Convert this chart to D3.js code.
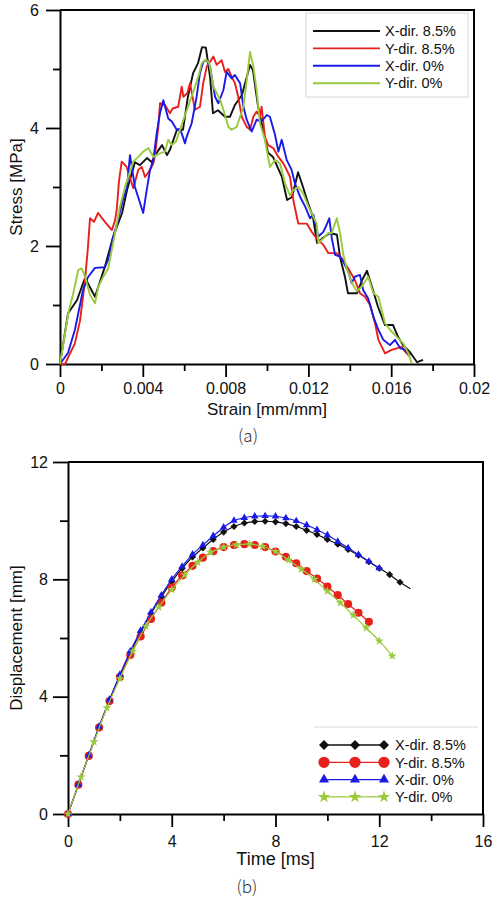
<!DOCTYPE html>
<html><head><meta charset="utf-8">
<script src="https://cdn.jsdelivr.net/npm/d3@7"></script>
<style>body{margin:0;background:#fff} svg{display:block}</style>
</head><body>
<svg id="c" width="499" height="902"></svg>
<script>
// ---------- shared ----------
const seriesNames = ["X-dir. 8.5%", "Y-dir. 8.5%", "X-dir. 0%", "Y-dir. 0%"];

// ---------- (a) stress-strain ----------
const strainTicks = [0, 0.004, 0.008, 0.012, 0.016, 0.02];
const strainTickLabels = ["0", "0.004", "0.008", "0.012", "0.016", "0.02"];
const stressTicks = [0, 2, 4, 6];
const stressTickLabels = ["0", "2", "4", "6"];

const xStrain85 = [0,.00039,.00082,.00121,.00169,.00217,.00256,.003,.00324,.00362,.00386,.0042,.00444,.00459,.00493,.00517,.00531,.00565,.00594,.00618,.00643,.00667,.00686,.00705,.00725,.00739,.00763,.00797,.00821,.00845,.00879,.00918,.00932,.00957,.00981,.01005,.01029,.01072,.01097,.01121,.0115,.01174,.01198,.01222,.01242,.01271,.01304,.01338,.01353,.01377,.01391,.01435,.01459,.01483,.01507,.01536,.0157,.01609,.01633,.01657,.01691,.01725,.01754];
const xStress85 = [0,0.86,1.08,1.46,1.14,1.65,2.15,2.56,2.95,3.42,3.37,3.49,3.42,3.54,3.71,3.54,3.63,3.97,3.97,4.53,4.93,5.1,5.37,5.36,4.86,4.25,4.3,4.19,4.19,4.39,4.56,5.07,4.98,4.36,3.97,3.58,3.51,3.17,2.78,2.83,3.25,3.0,2.73,2.49,2.05,2.14,2.22,2.19,1.81,1.47,1.2,1.2,1.42,1.58,1.31,0.97,0.66,0.66,0.46,0.32,0.2,0.03,0.07];

const yStrain85 = [0,.00024,.00072,.00097,.00121,.00135,.00145,.00164,.00184,.00217,.00251,.00266,.00274,.00285,.00298,.00322,.00354,.00378,.00395,.00411,.00435,.00451,.00459,.00475,.00483,.00507,.00531,.00544,.00571,.00588,.00596,.00615,.00628,.00652,.00676,.00692,.00709,.00741,.00757,.00781,.00797,.00813,.00829,.00845,.00861,.00878,.00902,.00918,.00934,.0095,.00966,.00974,.0099,.01006,.0103,.01055,.01079,.01095,.01111,.01127,.01151,.01192,.01216,.0124,.01272,.01296,.01337,.01361,.01393,.01425,.01449,.01473,.01498,.01522,.01538,.0157,.01602,.01651,.01667,.01691];
const yStress85 = [0,0,0.35,0.74,1.42,1.98,2.47,2.41,2.56,2.41,2.27,2.44,2.61,3.1,3.43,3.34,2.98,3.29,3.34,3.17,3.29,3.4,3.54,4.02,4.42,4.39,4.25,4.33,4.36,4.7,4.53,4.59,4.76,4.31,4.36,4.76,5.04,5.21,5.07,5.15,4.95,5.0,4.87,4.76,4.53,4.19,4.02,3.97,4.19,4.28,4.19,4.36,3.85,3.71,3.66,3.51,3.4,3.29,3.17,2.78,2.38,2.38,2.24,2.13,2.02,1.88,1.88,1.79,1.62,1.42,1.2,1.14,1.0,0.69,0.41,0.18,0.24,0.29,0.21,0.12];

const xStrain0 = [0,.00039,.00072,.00111,.00135,.00169,.00217,.00232,.00256,.0028,.00304,.00324,.00338,.00362,.00402,.00419,.00435,.00451,.00467,.00483,.00499,.00523,.0054,.00564,.0058,.00604,.00612,.00636,.0066,.00676,.00692,.00709,.00725,.00749,.00765,.00789,.00805,.00829,.00845,.0087,.00886,.00902,.00926,.0095,.00974,.00999,.01014,.01039,.01055,.01071,.01095,.01119,.01135,.01159,.01184,.01208,.01224,.0124,.01248,.01272,.01288,.01301,.01313,.01329,.01353,.01369,.01393,.01409,.01425,.01449,.01465,.01489,.01514,.01538,.01562,.01594,.01618,.01643,.01667,.01691];
const xStress0 = [0,0.19,0.58,1.25,1.47,1.63,1.64,1.76,2.14,2.44,2.78,3.0,3.54,3.0,2.56,2.95,3.29,3.46,3.91,4.25,4.47,4.16,4.11,3.97,3.99,3.74,3.85,4.08,4.53,4.93,5.12,5.15,5.04,4.53,4.42,4.64,4.95,4.84,4.9,4.76,4.36,4.14,3.94,4.14,4.11,4.22,4.19,3.88,3.6,3.8,3.46,3.29,3.06,2.84,2.67,2.47,2.53,2.27,2.16,2.24,2.36,2.47,2.13,1.85,1.82,1.73,1.56,1.37,1.48,1.51,1.25,1.11,0.8,0.58,0.41,0.32,0.41,0.27,0.24,0.15];

const yStrain0 = [0,.0004,.00064,.00088,.00105,.00121,.00145,.00169,.00185,.00209,.00233,.0025,.00266,.0029,.00314,.00354,.00378,.00402,.00427,.00451,.00483,.00507,.00523,.0054,.0056,.0058,.00604,.00628,.00652,.00668,.00685,.00705,.00721,.00741,.00757,.00776,.00797,.00813,.00829,.00854,.00886,.00902,.00918,.00934,.0095,.00966,.0099,.01014,.01039,.01063,.01087,.01111,.01127,.01151,.01175,.012,.0124,.01248,.01272,.01296,.01313,.01337,.01353,.01369,.01385,.01409,.01433,.01457,.01489,.01514,.01538,.0157,.01594,.01627,.01658,.01683,.01699];
const yStress0 = [0,0.86,1.2,1.59,1.62,1.48,1.17,1.03,1.31,1.48,1.62,1.93,2.22,2.67,3.0,3.43,3.51,3.6,3.66,3.51,3.57,3.6,3.8,3.71,3.77,3.97,4.22,4.45,4.7,4.87,5.1,5.16,5.1,4.7,4.59,4.45,4.22,4.02,3.97,4.02,4.36,4.81,5.29,5.04,4.64,4.08,3.8,3.34,3.46,3.4,3.06,2.86,2.95,3.0,2.89,2.67,2.38,2.05,2.13,2.22,2.22,2.47,2.22,1.85,1.62,1.39,1.23,1.31,1.48,1.2,1.14,0.69,0.58,0.46,0.35,0.18,0.01];

// ---------- (b) displacement-time ----------
const timeTicks = [0, 4, 8, 12, 16];
const timeTickLabels = ["0", "4", "8", "12", "16"];
const dispTicks = [0, 4, 8, 12];
const dispTickLabels = ["0", "4", "8", "12"];

const xTime85 = [0,0.4,0.8,1.2,1.6,2.0,2.4,2.8,3.2,3.6,4.0,4.4,4.8,5.2,5.6,6.0,6.4,6.8,7.2,7.6,8.0,8.4,8.8,9.2,9.6,10.0,10.4,10.8,11.2,11.6,12.0,12.4,12.8,13.2];
const xDisp85 = [0,1.0,2.0,2.98,3.88,4.72,5.5,6.2,6.83,7.4,7.92,8.37,8.76,9.07,9.36,9.61,9.8,9.92,9.97,9.98,9.96,9.9,9.8,9.67,9.53,9.36,9.2,9.02,8.82,8.6,8.38,8.16,7.9,7.68];

const yTime85 = [0,0.4,0.8,1.2,1.6,2.0,2.4,2.8,3.2,3.6,4.0,4.4,4.8,5.2,5.6,6.0,6.4,6.8,7.2,7.6,8.0,8.4,8.8,9.2,9.6,10.0,10.4,10.8,11.2,11.6];
const yDisp85 = [0,1.0,1.98,2.95,3.85,4.67,5.42,6.05,6.65,7.2,7.72,8.13,8.46,8.74,8.96,9.1,9.17,9.2,9.17,9.1,8.95,8.77,8.55,8.28,8.03,7.75,7.46,7.16,6.86,6.55];

const xTime0 = [0,0.4,0.8,1.2,1.6,2.0,2.4,2.8,3.2,3.6,4.0,4.4,4.8,5.2,5.6,6.0,6.4,6.8,7.2,7.6,8.0,8.4,8.8,9.2,9.6,10.0,10.4,10.8,11.2,11.6,12.0];
const xDisp0 = [0,1.0,2.0,2.98,3.9,4.75,5.55,6.25,6.88,7.46,8.0,8.44,8.85,9.17,9.48,9.77,10.0,10.1,10.15,10.16,10.15,10.09,9.99,9.85,9.69,9.51,9.29,9.07,8.84,8.61,8.38];

const yTime0 = [0,0.5,1.0,1.5,2.0,2.5,3.0,3.5,4.0,4.5,5.0,5.5,6.0,6.5,7.0,7.5,8.0,8.5,9.0,9.5,10.0,10.5,11.0,11.5,12.0,12.5];
const yDisp0 = [0,1.26,2.46,3.62,4.62,5.55,6.4,7.05,7.65,8.15,8.58,8.92,9.1,9.18,9.2,9.12,8.95,8.66,8.35,8.0,7.6,7.2,6.78,6.34,5.9,5.39];

// ---------- styles ----------
const lineColors = ["#111111", "#e8201c", "#1a1ae8", "#99c93c"];
const tickFont = "'Liberation Sans', Arial, sans-serif";

const svg = d3.select("#c");

function styleAxis(g, w) {
  g.select(".domain").attr("stroke", "#000").attr("stroke-width", w);
  g.selectAll(".tick line").attr("stroke", "#000").attr("stroke-width", 1.8);
  g.selectAll(".tick text").attr("font-family", tickFont).attr("font-size", 16).attr("fill", "#111");
}
function midpoints(arr) {
  const out = [];
  for (let i = 0; i < arr.length - 1; i++) out.push((arr[i] + arr[i + 1]) / 2);
  return out;
}

// ===== Chart (a) =====
const A = {l: 60, r: 474, t: 10, b: 364};
const xA = d3.scaleLinear().domain([0, 0.02]).range([A.l, A.r]);
const yA = d3.scaleLinear().domain([0, 6]).range([A.b, A.t]);

const gA = svg.append("g");
gA.append("path").attr("d", `M${A.l},${A.t}H${A.r}V${A.b}`).attr("fill", "none").attr("stroke", "#000").attr("stroke-width", 2);

gA.append("g").attr("transform", `translate(0,${A.b})`)
  .call(d3.axisBottom(xA).tickValues(midpoints(strainTicks)).tickSize(7).tickFormat(""))
  .call(g => { g.select(".domain").remove(); g.selectAll("line").attr("stroke", "#000").attr("stroke-width", 1.8); });
gA.append("g").attr("transform", `translate(${A.l},0)`)
  .call(d3.axisLeft(yA).tickValues(midpoints(stressTicks)).tickSize(7).tickFormat(""))
  .call(g => { g.select(".domain").remove(); g.selectAll("line").attr("stroke", "#000").attr("stroke-width", 1.8); });
gA.append("g").attr("transform", `translate(0,${A.b})`)
  .call(d3.axisBottom(xA).tickValues(strainTicks).tickSize(13).tickSizeOuter(0).tickPadding(6)
    .tickFormat((d, i) => strainTickLabels[i]))
  .call(g => styleAxis(g, 2));
gA.append("g").attr("transform", `translate(${A.l},0)`)
  .call(d3.axisLeft(yA).tickValues(stressTicks).tickSize(14).tickSizeOuter(0).tickPadding(7)
    .tickFormat((d, i) => stressTickLabels[i]))
  .call(g => styleAxis(g, 2));

const seriesA = [
  {x: xStrain85, y: xStress85},
  {x: yStrain85, y: yStress85},
  {x: xStrain0, y: xStress0},
  {x: yStrain0, y: yStress0}
];
const lineA = d3.line().x(d => xA(d[0])).y(d => yA(d[1]));
seriesA.forEach((s, i) => {
  gA.append("path").datum(s.x.map((v, k) => [v, s.y[k]]))
    .attr("d", lineA).attr("fill", "none").attr("stroke", lineColors[i])
    .attr("stroke-width", 1.9).attr("stroke-linejoin", "round");
});

gA.append("text").attr("x", (A.l + A.r) / 2).attr("y", 415).attr("text-anchor", "middle")
  .attr("font-family", tickFont).attr("font-size", 17).attr("fill", "#111").text("Strain [mm/mm]");
gA.append("text").attr("transform", `translate(22,${(A.t + A.b) / 2}) rotate(-90)`).attr("text-anchor", "middle")
  .attr("font-family", tickFont).attr("font-size", 17).attr("fill", "#111").text("Stress [MPa]");

const legA = gA.append("g");
legA.append("rect").attr("x", 306).attr("y", 13).attr("width", 162).attr("height", 84)
  .attr("fill", "#fff").attr("stroke", "#d8d8d8").attr("stroke-width", 1);
seriesNames.forEach((n, i) => {
  const yy = 31 + i * 17.4;
  legA.append("line").attr("x1", 313).attr("x2", 380).attr("y1", yy).attr("y2", yy)
    .attr("stroke", lineColors[i]).attr("stroke-width", 1.9);
  legA.append("text").attr("x", 385).attr("y", yy).attr("dy", "0.36em")
    .attr("font-family", tickFont).attr("font-size", 14.5).attr("fill", "#111").text(n);
});

svg.append("text").attr("x", 248).attr("y", 442).attr("text-anchor", "middle")
  .attr("font-family", "'Noto Sans CJK KR', 'Noto Sans', sans-serif").attr("font-weight", 300)
  .attr("font-size", 17).attr("fill", "#333").text("(a)");

// ===== Chart (b) =====
const B = {l: 68, r: 483, t: 462, b: 814};
const xB = d3.scaleLinear().domain([0, 16]).range([B.l, B.r]);
const yB = d3.scaleLinear().domain([0, 12]).range([B.b, B.t]);
const gB = svg.append("g");
gB.append("path").attr("d", `M${B.l},${B.t}H${B.r}V${B.b}`).attr("fill", "none").attr("stroke", "#000").attr("stroke-width", 2);

gB.append("g").attr("transform", `translate(0,${B.b})`)
  .call(d3.axisBottom(xB).tickValues(midpoints(timeTicks)).tickSize(7).tickFormat(""))
  .call(g => { g.select(".domain").remove(); g.selectAll("line").attr("stroke", "#000").attr("stroke-width", 1.8); });
gB.append("g").attr("transform", `translate(${B.l},0)`)
  .call(d3.axisLeft(yB).tickValues(midpoints(dispTicks)).tickSize(8).tickFormat(""))
  .call(g => { g.select(".domain").remove(); g.selectAll("line").attr("stroke", "#000").attr("stroke-width", 1.8); });
gB.append("g").attr("transform", `translate(0,${B.b})`)
  .call(d3.axisBottom(xB).tickValues(timeTicks).tickSize(13).tickSizeOuter(0).tickPadding(9)
    .tickFormat((d, i) => timeTickLabels[i]))
  .call(g => styleAxis(g, 2));
gB.append("g").attr("transform", `translate(${B.l},0)`)
  .call(d3.axisLeft(yB).tickValues(dispTicks).tickSize(15).tickSizeOuter(0).tickPadding(5)
    .tickFormat((d, i) => dispTickLabels[i]))
  .call(g => styleAxis(g, 2));

const symbolsB = [
  {type: d3.symbolSquare, size: 25, legendSize: 50, rot: 45},
  {type: d3.symbolCircle, size: 52, legendSize: 100, rot: 0},
  {type: d3.symbolTriangle, size: 24, legendSize: 44, rot: 0},
  {type: d3.symbolStar, size: 26, legendSize: 48, rot: 0}
];
const seriesB = [
  {t: xTime85, d: xDisp85, markLast: false},
  {t: yTime85, d: yDisp85, markLast: true},
  {t: xTime0, d: xDisp0, markLast: true},
  {t: yTime0, d: yDisp0, markLast: true}
];
const lineB = d3.line().curve(d3.curveCatmullRom).x(d => xB(d[0])).y(d => yB(d[1]));
seriesB.forEach((s, i) => {
  const pts = s.t.map((v, k) => [v, s.d[k]]);
  const g = gB.append("g");
  g.append("path").datum(pts).attr("d", lineB).attr("fill", "none")
    .attr("stroke", lineColors[i]).attr("stroke-width", 1.2);
  const mk = s.markLast ? pts : pts.slice(0, -1);
  const sym = d3.symbol(symbolsB[i].type, symbolsB[i].size);
  g.selectAll("path.m").data(mk).join("path").attr("class", "m")
    .attr("d", sym)
    .attr("transform", d => `translate(${xB(d[0])},${yB(d[1])}) rotate(${symbolsB[i].rot})`)
    .attr("fill", lineColors[i]);
});

gB.append("text").attr("x", (B.l + B.r) / 2).attr("y", 865).attr("text-anchor", "middle")
  .attr("font-family", tickFont).attr("font-size", 18).attr("fill", "#111").text("Time [ms]");
gB.append("text").attr("transform", `translate(22,${(B.t + B.b) / 2}) rotate(-90)`).attr("text-anchor", "middle")
  .attr("font-family", tickFont).attr("font-size", 17).attr("fill", "#111").text("Displacement [mm]");

const legB = gB.append("g");
legB.append("line").attr("x1", 314).attr("x2", 478).attr("y1", 727).attr("y2", 727)
  .attr("stroke", "#d8d8d8").attr("stroke-width", 1);
const legSymX = [324, 355, 384];
seriesNames.forEach((n, i) => {
  const yy = 745 + i * 17.3;
  legB.append("line").attr("x1", legSymX[0]).attr("x2", legSymX[2]).attr("y1", yy).attr("y2", yy)
    .attr("stroke", lineColors[i]).attr("stroke-width", 1.3);
  const sym = d3.symbol(symbolsB[i].type, symbolsB[i].legendSize);
  legSymX.forEach(sx => {
    legB.append("path").attr("d", sym)
      .attr("transform", `translate(${sx},${yy}) rotate(${symbolsB[i].rot})`)
      .attr("fill", lineColors[i]);
  });
  legB.append("text").attr("x", 395).attr("y", yy).attr("dy", "0.36em")
    .attr("font-family", tickFont).attr("font-size", 14.5).attr("fill", "#111").text(n);
});

svg.append("text").attr("x", 247).attr("y", 893).attr("text-anchor", "middle")
  .attr("font-family", "'Noto Sans CJK KR', 'Noto Sans', sans-serif").attr("font-weight", 300)
  .attr("font-size", 17).attr("fill", "#333").text("(b)");
</script>
</body></html>
